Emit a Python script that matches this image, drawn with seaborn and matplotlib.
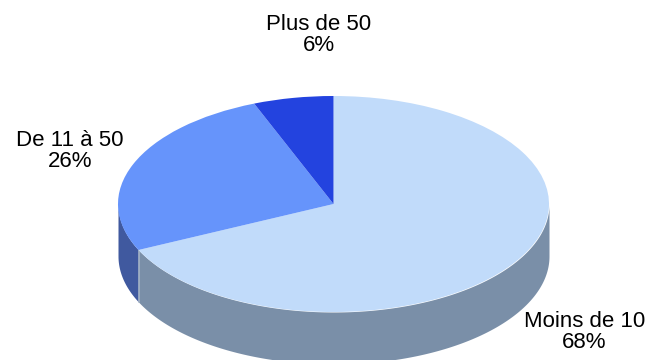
import numpy as np
import matplotlib
matplotlib.use("Agg")
import matplotlib.pyplot as plt
import seaborn as sns

categories = ["Moins de 10", "De 11 à 50", "Plus de 50"]
shares = [68, 26, 6]
top_colors = ["#C1DBFA", "#6694FB", "#2343DF"]
wall_colors = ["#7A8FA8", "#40599F", "#1A2F9C"]

sns.set_theme(style="white")
plt.rcParams["font.family"] = ["Liberation Sans", "DejaVu Sans"]

W, H = 647, 360
cx, cy, rx, ry, depth = 333.5, 204, 215.5, 108, 52

fig = plt.figure(figsize=(W / 100, H / 100), dpi=100, facecolor="white")
ax = fig.add_axes([0, 0, 1, 1])
d = depth / ry

start = 90.0
wedges, _ = ax.pie(shares, colors=top_colors, startangle=start, counterclock=False,
                   radius=1, frame=False, wedgeprops=dict(linewidth=0, zorder=5))
ax.set_aspect("auto")
ax.set_xlim(-cx / rx, (W - cx) / rx)
ax.set_ylim(-(H - cy) / ry, cy / ry)

# side walls, from the same shares
a = start
for share, wc in zip(shares, wall_colors):
    b = a - share * 3.6
    for shift in (0, -360):
        l, h = max(b, -180 + shift), min(a, 0 + shift)
        if h > l:
            t = np.radians(np.linspace(h, l, 200))
            x, y = np.cos(t), np.sin(t)
            ax.fill_between(x, y, y - d, color=wc, linewidth=0, zorder=2)
    a = b

# soft seam between the two visible walls
seam = np.radians(start - shares[0] * 3.6)
ax.plot([np.cos(seam)] * 2, [np.sin(seam), np.sin(seam) - d], color="#A4B3C6", lw=1.2, zorder=3)

labels = [(584.5, 332), (70, 151), (319, 35)]
for c, s, (px, py) in zip(categories, shares, labels):
    ax.text((px - cx) / rx, (cy - py) / ry, f"{c}\n{s}%", ha="center", va="center",
            fontsize=16, color="black", linespacing=1.05, zorder=6)

ax.axis("off")
fig.savefig("out.png", dpi=100, facecolor="white")
